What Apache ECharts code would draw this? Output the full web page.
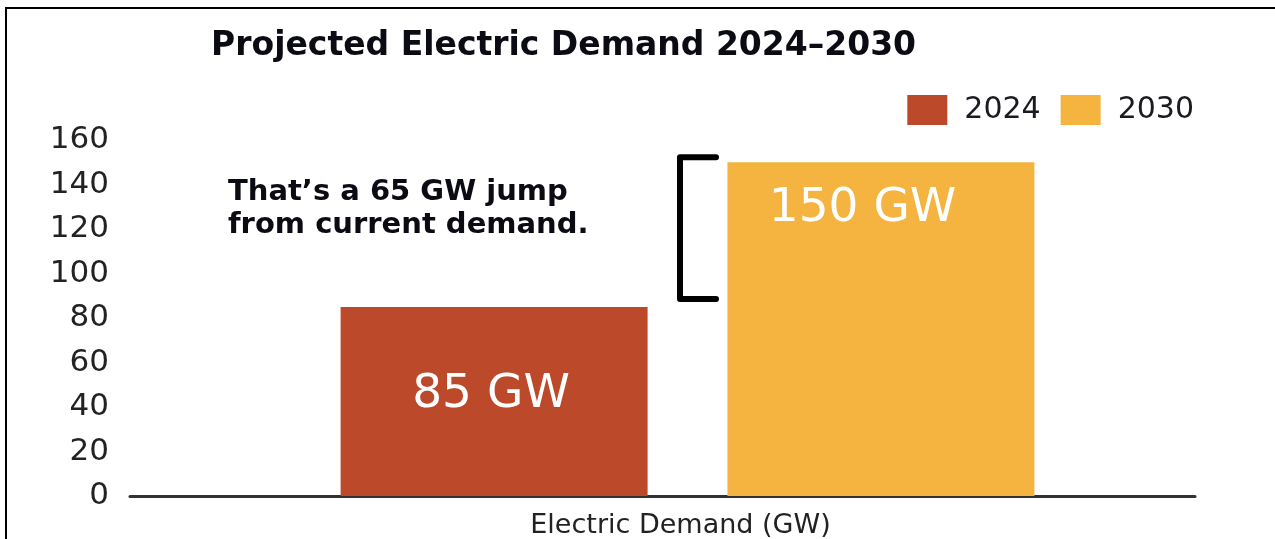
<!DOCTYPE html>
<html><head><meta charset="utf-8">
<script src="https://cdn.jsdelivr.net/npm/echarts@6/dist/echarts.min.js"></script>
<style>html,body{margin:0;padding:0;background:#fff}#c{width:1275px;height:539px}</style>
</head><body><div id="c"></div>
<script>
const categories = ['Electric Demand (GW)'];
const seriesNames = ['2024', '2030'];
const values2024 = [85];
const values2030 = [150];
const labels2024 = ['85 GW'];
const labels2030 = ['150 GW'];
const yTicks = [0, 20, 40, 60, 80, 100, 120, 140, 160];
const titleText = 'Projected Electric Demand 2024\u20132030';
const noteLines = ['That\u2019s a 65 GW jump', 'from current demand.'];

const RED = '#BC4A2A', GOLD = '#F5B440';
const chart = echarts.init(document.getElementById('c'), null, {renderer: 'canvas'});
const fam = 'DejaVu Sans';

chart.setOption({
  animation: false,
  backgroundColor: '#fff',
  title: {
    text: titleText, left: 206, top: 25,
    textStyle: {fontFamily: fam, fontWeight: 'bold', fontSize: 33, color: '#0b0b14'}
  },
  legend: {
    data: seriesNames, right: 76, top: 90,
    itemWidth: 40, itemHeight: 30, itemGap: 20,
    icon: 'rect',
    textStyle: {fontFamily: fam, fontSize: 30, color: '#1a1a22', padding: [0, 0, 0, 12]}
  },
  grid: {left: 130, right: 80, top: 140, bottom: 41, containLabel: false},
  xAxis: {
    type: 'category', data: categories,
    axisLine: {lineStyle: {color: '#333', width: 3}},
    axisTick: {show: false},
    axisLabel: {fontFamily: fam, fontSize: 27, color: '#222', margin: 16, padding: [0, 0, 0, 36]}
  },
  yAxis: {
    type: 'value', min: yTicks[0], max: yTicks[yTicks.length - 1], interval: yTicks[1] - yTicks[0],
    axisLine: {show: false}, axisTick: {show: false}, splitLine: {show: false},
    axisLabel: {fontFamily: fam, fontSize: 31, color: '#222', margin: 21}
  },
  series: [
    {name: '_pad', type: 'bar', barWidth: 39.7, barGap: '26%', data: [null], silent: true},
    {
      name: seriesNames[0], type: 'bar', barWidth: 307, barGap: '26%',
      itemStyle: {color: RED},
      data: values2024.map((v, i) => ({value: v, label: {
        show: true, formatter: labels2024[i], position: ['49%', 88],
        align: 'center', verticalAlign: 'middle',
        fontFamily: fam, fontSize: 47, color: '#fff'
      }}))
    },
    {
      name: seriesNames[1], type: 'bar', barWidth: 307, barGap: '26%',
      itemStyle: {color: GOLD},
      data: values2030.map((v, i) => ({value: v, label: {
        show: true, formatter: labels2030[i], position: ['44%', 47],
        align: 'center', verticalAlign: 'middle',
        fontFamily: fam, fontSize: 47, color: '#fff'
      }}))
    }
  ]
});

// bracket spanning from 2024 value to 2030 value
const yTop = chart.convertToPixel({yAxisIndex: 0}, values2030[0]) - 5;
const yBot = chart.convertToPixel({yAxisIndex: 0}, values2024[0]) - 8;
const bx = 680, arm = 36;
chart.setOption({
  graphic: [
    {type: 'rect', x: 6, y: 8, shape: {x: 0, y: 0, width: 1300, height: 600},
     style: {fill: 'none', stroke: '#000', lineWidth: 2}, silent: true, z: 100},
    {type: 'polyline', shape: {points: [[bx + arm, yTop], [bx, yTop], [bx, yBot], [bx + arm, yBot]]},
     style: {fill: 'none', stroke: '#000', lineWidth: 6, lineJoin: 'round', lineCap: 'round'}, z: 100},
    {type: 'text', left: 228, top: 176,
     style: {text: noteLines.join('\n'), fontFamily: fam, fontWeight: 'bold', fontSize: 29,
             lineHeight: 33, fill: '#0b0b14'}, z: 100}
  ]
});
</script></body></html>
